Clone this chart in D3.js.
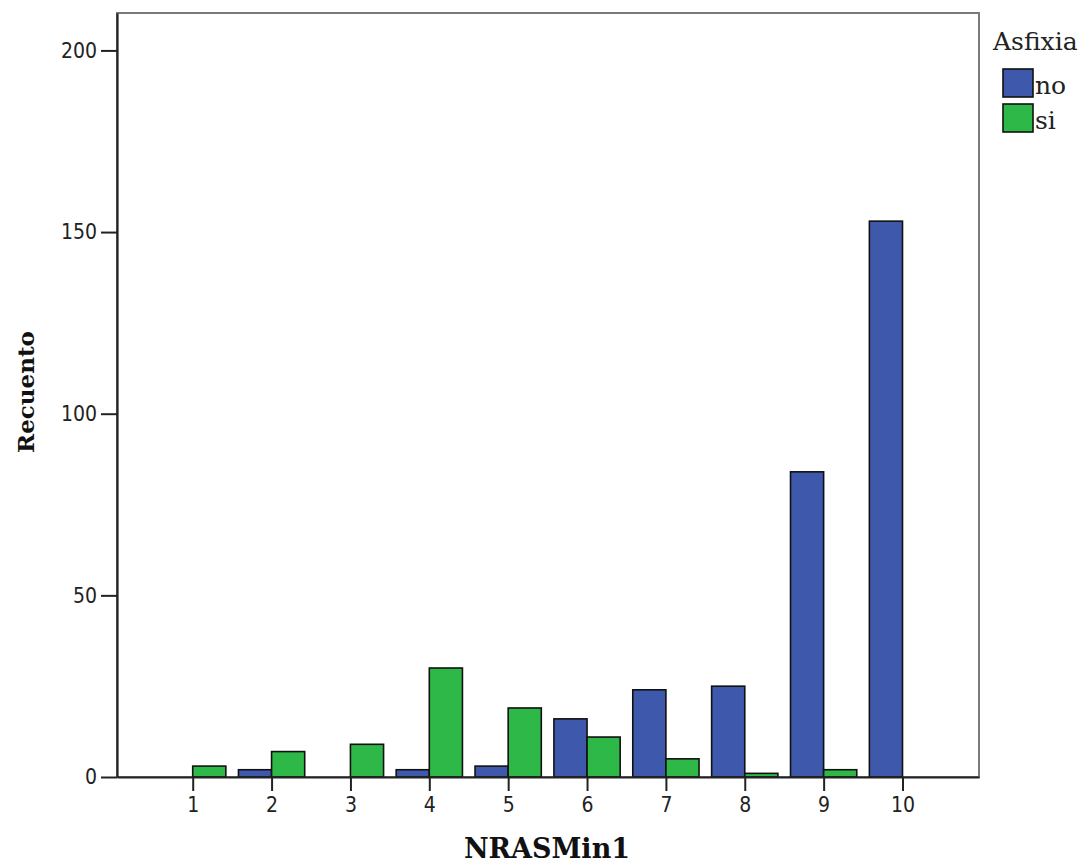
<!DOCTYPE html>
<html>
<head>
<meta charset="utf-8">
<script src="https://cdn.jsdelivr.net/npm/d3@7"></script>
<style>
  html, body { margin: 0; padding: 0; background: #fff; }
  svg { display: block; }
  .tick-label { font-family: "DejaVu Sans Condensed", "DejaVu Sans", sans-serif; font-size: 21px; fill: #222; }
  .axis-title { font-family: "DejaVu Serif", serif; font-weight: bold; fill: #111; }
  .legend-text { font-family: "DejaVu Serif", serif; fill: #222; }
</style>
</head>
<body>
<svg id="chart" width="1086" height="865"></svg>
<script>
// Recuento por puntuación NRASMin1, separado por Asfixia
const categories = [1, 2, 3, 4, 5, 6, 7, 8, 9, 10];
const seriesNames = ["no", "si"];
const countsNo = [0, 2, 0, 2, 3, 16, 24, 25, 84, 153];
const countsSi = [3, 7, 9, 30, 19, 11, 5, 1, 2, 0];
const yTicks = [0, 50, 100, 150, 200];
const xTitle = "NRASMin1";
const yTitle = "Recuento";
const legendTitle = "Asfixia";

const colors = { no: "#3E58AC", si: "#2EB848" };

const svg = d3.select("#chart");
const plot = { left: 117, right: 979, top: 13, bottom: 777 };

const x = d3.scaleLinear().domain([0.04, 10.97]).range([plot.left, plot.right]);
const y = d3.scaleLinear().domain([0, 210.3]).range([plot.bottom, plot.top]);
const barW = x(1.42) - x(1);

// plot frame
svg.append("rect")
  .attr("x", plot.left).attr("y", plot.top)
  .attr("width", plot.right - plot.left).attr("height", plot.bottom - plot.top)
  .attr("fill", "#fff").attr("stroke", "#7a7a7a").attr("stroke-width", 2);

// bars
const rows = categories.map((c, i) => ({ c, no: countsNo[i], si: countsSi[i] }));
const bars = svg.append("g");
seriesNames.forEach((s, k) => {
  bars.selectAll(null)
    .data(rows.filter(d => d[s] > 0))
    .join("rect")
    .attr("x", d => x(d.c) + (k === 0 ? -barW : 0))
    .attr("y", d => y(d[s]))
    .attr("width", barW)
    .attr("height", d => y(0) - y(d[s]))
    .attr("fill", colors[s])
    .attr("stroke", "#111")
    .attr("stroke-width", 1.6);
});

// y axis
const yAxis = d3.axisLeft(y).tickValues(yTicks).tickSize(16).tickSizeOuter(0).tickPadding(4).tickFormat(d3.format("d"));
const gy = svg.append("g").attr("transform", `translate(${plot.left},0)`).call(yAxis);
gy.select(".domain").attr("stroke", "#222").attr("stroke-width", 2.2);
gy.selectAll(".tick line").attr("stroke", "#222").attr("stroke-width", 2);
gy.selectAll(".tick text").attr("class", "tick-label").attr("fill", null);

// x axis
const xAxis = d3.axisBottom(x).tickValues(categories).tickSize(14).tickSizeOuter(0).tickPadding(6).tickFormat(d3.format("d"));
const gx = svg.append("g").attr("transform", `translate(0,${plot.bottom})`).call(xAxis);
gx.select(".domain").attr("stroke", "#222").attr("stroke-width", 2);
gx.selectAll(".tick line").attr("stroke", "#222").attr("stroke-width", 2);
gx.selectAll(".tick text").attr("class", "tick-label").attr("fill", null);

// axis titles
svg.append("text").attr("class", "axis-title")
  .attr("x", (plot.left + plot.right) / 2 - 1).attr("y", 858)
  .attr("text-anchor", "middle").attr("font-size", 27)
  .text(xTitle);
svg.append("text").attr("class", "axis-title")
  .attr("transform", "translate(34,392) rotate(-90)")
  .attr("text-anchor", "middle").attr("font-size", 23)
  .text(yTitle);

// legend
const lg = svg.append("g");
lg.append("text").attr("class", "legend-text")
  .attr("x", 993).attr("y", 50).attr("font-size", 25)
  .text(legendTitle);
seriesNames.forEach((s, k) => {
  const top = 69 + k * 35;
  lg.append("rect")
    .attr("x", 1003).attr("y", top).attr("width", 30).attr("height", 28)
    .attr("fill", colors[s]).attr("stroke", "#111").attr("stroke-width", 1.6);
  lg.append("text").attr("class", "legend-text")
    .attr("x", 1035).attr("y", top + 25).attr("font-size", 25)
    .text(s);
});
</script>
</body>
</html>
